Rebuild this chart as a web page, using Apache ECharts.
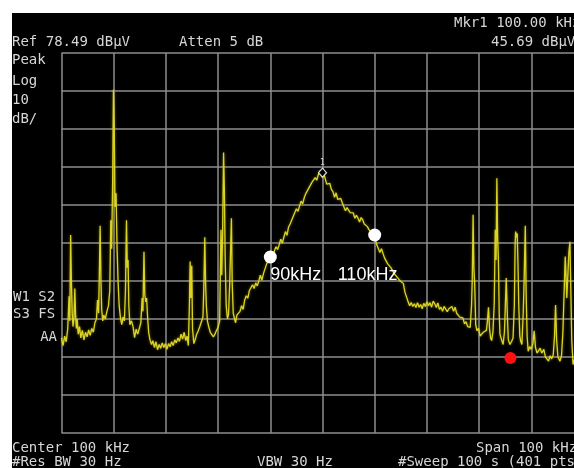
<!DOCTYPE html>
<html><head><meta charset="utf-8">
<script src="https://cdn.jsdelivr.net/npm/echarts@6/dist/echarts.min.js"></script>
<style>
html,body{margin:0;padding:0;background:#fff;}
#bg{position:absolute;left:12px;top:13px;width:562px;height:455px;background:#000;}
#c{position:absolute;left:0;top:0;width:574px;height:468px;}
</style></head><body><div id="bg"></div><div id="c"></div>
<script>
// ---- data ----
const freqKHz = [
50.0,50.3,50.6,50.9,51.2,51.45,51.6,51.75,51.9,52.05,52.2,52.4,52.55,52.7,52.85,53.0,53.2,53.45,53.7,54.0,
54.3,54.6,54.9,55.2,55.5,55.8,56.1,56.4,56.7,56.9,57.1,57.25,57.4,57.55,57.7,57.9,58.1,58.4,58.7,59.0,
59.25,59.45,59.6,59.8,59.95,60.1,60.25,60.45,60.65,60.85,61.05,61.3,61.55,61.8,62.05,62.25,62.45,62.6,62.75,62.9,
63.1,63.4,63.7,64.0,64.3,64.6,64.9,65.2,65.45,65.6,65.8,65.95,66.15,66.3,66.5,66.7,66.95,67.25,67.5,67.8,
68.1,68.4,68.7,69.0,69.3,69.6,69.9,70.2,70.5,70.8,71.1,71.4,71.7,72.0,72.3,72.6,72.9,73.2,73.5,73.8,
74.05,74.3,74.5,74.65,74.8,74.95,75.1,75.35,75.6,75.9,76.2,76.5,76.8,77.1,77.3,77.45,77.6,77.75,77.95,78.2,
78.5,78.8,79.1,79.4,79.7,80.0,80.3,80.55,80.7,80.85,81.05,81.2,81.35,81.55,81.8,82.0,82.2,82.4,82.55,82.7,
82.9,83.1,83.35,83.6,83.9,84.2,84.5,84.8,85.1,85.4,85.7,86.0,86.3,86.6,86.9,87.2,87.5,87.8,88.1,88.4,
88.7,89.0,89.3,89.6,89.9,90.2,90.5,90.8,91.1,91.4,91.7,92.0,92.3,92.6,92.9,93.2,93.5,93.8,94.1,94.4,
94.7,95.0,95.3,95.6,95.9,96.2,96.5,96.8,97.1,97.4,97.7,98.0,98.3,98.6,98.9,99.2,99.5,99.75,100.0,100.25,
100.5,100.8,101.1,101.4,101.7,102.0,102.3,102.6,102.9,103.2,103.5,103.8,104.1,104.4,104.7,105.0,105.3,105.6,105.9,106.2,
106.5,106.8,107.1,107.4,107.7,108.0,108.3,108.6,108.9,109.2,109.5,109.8,110.1,110.4,110.7,111.0,111.3,111.6,111.9,112.2,
112.5,112.8,113.1,113.4,113.7,114.0,114.3,114.6,114.9,115.2,115.5,115.8,116.1,116.4,116.7,117.0,117.3,117.6,117.9,118.2,
118.5,118.8,119.1,119.4,119.7,120.0,120.3,120.6,120.9,121.2,121.5,121.8,122.1,122.4,122.7,123.0,123.3,123.6,123.9,124.2,
124.5,124.8,125.1,125.4,125.7,126.0,126.3,126.6,126.9,127.2,127.5,127.8,128.1,128.3,128.55,128.7,128.85,129.0,129.15,129.35,
129.6,129.9,130.2,130.5,130.8,131.1,131.4,131.6,131.8,132.0,132.2,132.4,132.65,132.9,133.1,133.25,133.4,133.55,133.7,133.85,
134.0,134.3,134.6,134.85,135.0,135.2,135.4,135.6,135.9,136.2,136.5,136.75,136.9,137.0,137.15,137.3,137.45,137.6,137.8,138.0,
138.2,138.45,138.65,138.85,139.0,139.2,139.4,139.7,140.0,140.3,140.55,140.8,141.1,141.4,141.7,142.0,142.4,142.7,143.0,143.3,
143.6,143.9,144.2,144.45,144.65,144.85,145.1,145.5,145.8,146.05,146.3,146.5,146.65,146.8,147.0,147.2,147.4,147.55,147.75,148.0,
148.3,148.6,149.0,149.4,149.8,150.0
];
const levelDbuv = [
3.5,1.5,4.0,2.5,6.0,14.5,8.0,30.6,18.0,10.0,6.5,9.0,16.5,9.5,6.0,8.5,4.5,6.5,3.5,5.5,
3.0,5.0,3.8,5.6,4.2,6.0,5.0,7.5,8.5,13.5,10.0,20.0,33.0,19.0,11.0,8.0,9.5,8.5,10.5,12.0,
16.0,34.5,27.0,45.0,68.8,59.0,38.0,41.6,27.0,18.0,12.0,8.8,7.0,9.0,8.0,16.0,34.5,22.0,24.0,12.0,
7.0,8.0,6.5,3.6,5.8,4.5,6.0,7.5,14.0,10.5,26.2,15.0,13.0,14.0,8.8,5.0,3.0,1.8,2.8,1.0,
2.5,0.4,1.8,0.8,2.2,1.0,2.0,0.5,2.0,1.2,2.5,1.5,3.0,2.2,3.5,2.6,4.5,3.2,5.0,2.8,
4.0,1.5,12.0,23.6,14.0,22.5,6.0,2.0,3.0,4.5,5.4,6.5,7.0,9.0,18.7,30.0,18.0,12.0,8.0,6.5,
5.0,5.4,3.8,4.5,5.5,6.3,8.0,32.0,20.0,30.0,52.3,42.4,25.0,12.0,8.5,9.8,17.0,27.0,35.0,18.0,
10.0,8.8,7.5,9.5,9.0,10.5,12.0,11.0,13.5,14.6,14.0,16.0,15.5,17.5,16.5,18.0,17.2,18.5,20.0,18.7,
20.5,21.0,23.0,22.5,24.5,25.5,24.8,26.5,27.5,26.8,28.0,29.5,28.5,30.0,31.5,30.5,32.7,33.5,34.0,35.5,
36.0,37.5,36.8,38.2,39.5,38.8,40.4,41.5,41.0,43.0,43.5,44.5,45.0,45.7,45.0,46.5,47.5,46.5,45.7,46.8,
45.5,44.0,43.5,44.2,42.6,42.0,40.5,41.7,40.0,39.5,40.2,39.0,38.5,37.0,37.8,37.3,36.5,36.8,36.4,35.0,
35.8,35.0,34.0,35.2,34.6,33.5,34.0,32.8,32.0,32.5,31.0,30.6,29.5,28.0,27.5,26.0,27.0,25.7,24.5,25.0,
23.0,22.5,22.0,21.3,20.5,21.0,19.5,19.0,18.5,18.8,17.8,15.5,14.3,13.0,12.0,12.8,11.8,12.5,11.5,12.8,
11.6,12.3,11.2,12.6,11.8,13.0,12.0,12.8,11.6,13.2,12.5,11.5,12.7,11.0,11.6,10.5,11.8,11.6,10.4,11.2,
10.7,11.8,10.5,11.6,10.0,9.5,9.0,8.5,8.8,7.2,7.8,6.5,7.0,6.3,12.0,19.5,35.9,22.0,18.0,7.0,
5.4,6.0,4.0,3.6,5.0,4.5,5.5,8.0,11.6,6.0,3.5,2.8,5.0,12.5,32.0,24.0,45.5,30.0,24.0,10.0,
4.5,3.0,1.8,5.0,11.0,19.3,10.0,3.0,1.8,2.5,3.5,12.0,28.0,31.5,30.0,31.0,23.0,12.0,4.0,2.5,
1.8,10.0,20.0,33.0,16.0,4.0,0.0,1.2,0.5,2.0,5.4,1.0,-0.5,-0.9,0.8,-0.5,0.5,-1.5,-1.0,-2.6,
-1.2,-2.0,-1.0,4.0,12.2,3.0,-1.5,-2.6,-1.0,5.0,16.0,24.9,20.0,14.0,20.0,26.0,28.8,18.0,3.0,-3.5,
-2.0,-3.0,-1.5,-2.5,-2.0,-2.8
];
const refLevel = 78.49;      // dBuV, top of screen
const dbPerDiv = 10;
const yDivisions = 10;
const startKHz = 50, stopKHz = 150, kHzPerDiv = 10;
const marker = [100, 45.69];
const markerName = '1';
const bandEdges = [[90, 24.8], [110, 30.6]];
const bandLabels = ['90kHz', '110kHz'];
const redPoint = [136, -1.8];
const topTexts = ['Mkr1 100.00 kHz', 'Ref 78.49 dB\u00b5V', 'Atten 5 dB', '45.69 dB\u00b5V'];
const leftTexts = ['Peak', 'Log', '10', 'dB/'];
const statusTexts = ['W1 S2', 'S3 FS', 'AA'];
const bottomTexts = ['Center 100 kHz', 'Span 100 kHz', '#Res BW 30 Hz', 'VBW 30 Hz', '#Sweep 100 s (401 pts)'];

// ---- chart ----
const yMin = Math.round((refLevel - dbPerDiv * yDivisions) * 100) / 100;
const trace = freqKHz.map((f, i) => [f, levelDbuv[i]]);
const txtFont = '14px "DejaVu Sans Mono"';
const txtColor = '#d6d6d6';
function txt(s, x, y, align) {
  return { type: 'text', x: x, y: y, z: 100, style: { text: s, fill: txtColor, font: txtFont, align: align || 'left', verticalAlign: 'middle' } };
}
const graphics = [
  txt(topTexts[0], 454, 23), txt(topTexts[1], 12, 42), txt(topTexts[2], 179, 42), txt(topTexts[3], 491, 42),
  txt(leftTexts[0], 12, 60.5), txt(leftTexts[1], 12, 81), txt(leftTexts[2], 12, 100), txt(leftTexts[3], 12, 119.5),
  txt(statusTexts[0], 13, 297.5), txt(statusTexts[1], 13, 314.5), txt(statusTexts[2], 57, 337.5, 'right'),
  txt(bottomTexts[0], 12, 448), txt(bottomTexts[1], 476, 448),
  txt(bottomTexts[2], 12, 462), txt(bottomTexts[3], 257, 462), txt(bottomTexts[4], 398, 462)
];
const gridLine = { show: true, lineStyle: { color: '#8e8e8e', width: 1.5 } };
const chart = echarts.init(document.getElementById('c'), null, { renderer: 'canvas' });
chart.setOption({
  backgroundColor: 'transparent',
  animation: false,
  grid: { left: 61.5, top: 53, width: 522, height: 380, outerBoundsMode: 'none', containLabel: false },
  xAxis: { type: 'value', min: startKHz, max: stopKHz, interval: kHzPerDiv,
    axisLine: { show: false }, axisTick: { show: false }, axisLabel: { show: false }, splitLine: gridLine },
  yAxis: { type: 'value', min: yMin, max: refLevel, interval: dbPerDiv,
    axisLine: { show: false }, axisTick: { show: false }, axisLabel: { show: false }, splitLine: gridLine },
  graphic: graphics,
  series: [
    { type: 'line', data: trace, showSymbol: false, z: 3,
      lineStyle: { color: '#dcd424', width: 1.3, shadowColor: 'rgba(210,200,30,0.55)', shadowBlur: 3 } },
    { type: 'scatter', data: [marker], z: 5, symbol: 'diamond', symbolSize: [8, 9], symbolOffset: [0, -5],
      itemStyle: { color: '#000', borderColor: '#e0e0e0', borderWidth: 1.2, opacity: 1 },
      label: { show: true, position: 'top', distance: 1, formatter: markerName, color: '#cfcfcf', fontSize: 8, fontFamily: 'DejaVu Sans' } },
    { type: 'scatter', z: 6, symbolSize: 13, itemStyle: { color: '#ffffff', opacity: 1 },
      data: bandEdges.map((p, i) => ({ value: p, label: { show: true, formatter: bandLabels[i], position: 'inside', align: 'left',
        offset: i === 0 ? [0, 18] : [-37, 40], color: '#ffffff', fontSize: 18, fontFamily: 'Liberation Sans' } })) },
    { type: 'scatter', z: 6, symbolSize: 12, itemStyle: { color: '#ff1010', opacity: 1 }, data: [redPoint] }
  ]
});
</script></body></html>
